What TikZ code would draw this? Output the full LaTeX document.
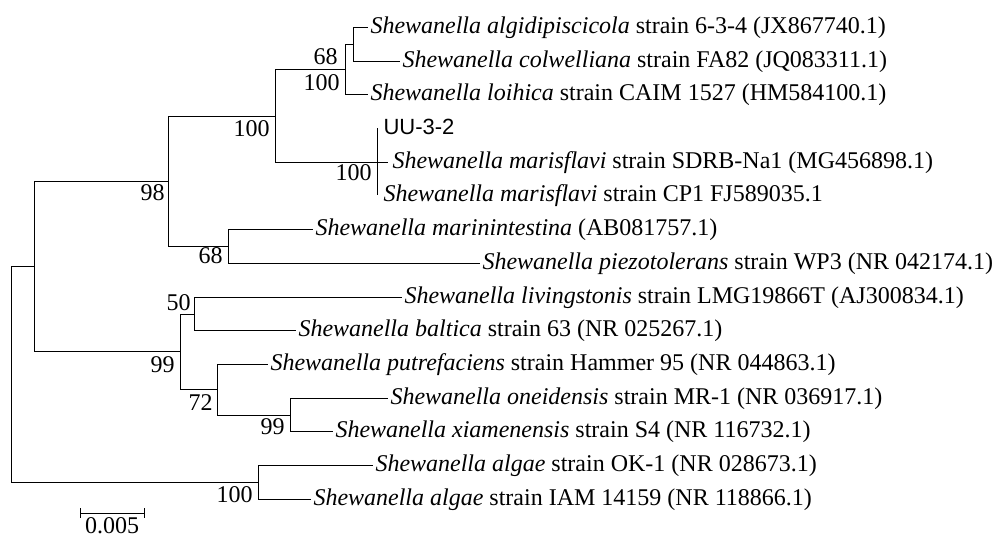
\documentclass[tikz,border=0pt]{standalone}
\usepackage{fontspec}
\setmainfont{Liberation Serif}
\newfontfamily\strainfont{Liberation Sans}
\usetikzlibrary{positioning}

\begin{document}
\begin{tikzpicture}[x=1pt, y=-1pt, line width=1pt,
      font=\fontsize{24}{28}\selectfont,
      leaf/.style={anchor=west, inner xsep=2pt, inner ysep=0pt, text height=17pt, text depth=5pt},
      boot/.style={anchor=east, inner sep=0pt}
    ]
      \useasboundingbox (0,0) rectangle (998,538);

      % internal nodes
      \coordinate (root) at (11,374);
      \coordinate (n11) at (34,266);
      \coordinate (n6) at (168,181);
      \coordinate (n4) at (275,116);
      \coordinate (n2) at (345,69);
      \coordinate (n1) at (353,44);
      \coordinate (n3) at (377,162);
      \coordinate (n5) at (228,246);
      \coordinate (n10) at (180,351);
      \coordinate (n7) at (194,314);
      \coordinate (n9) at (217,389);
      \coordinate (n8) at (290,415);
      \coordinate (n12) at (258,482);

      % tips
      \coordinate (t1) at (368,27);
      \coordinate (t2) at (400,61);
      \coordinate (t3) at (368,94);
      \coordinate (t4) at (377,128);
      \coordinate (t5) at (388,162);
      \coordinate (t6) at (377,195);
      \coordinate (t7) at (313,229);
      \coordinate (t8) at (480,263);
      \coordinate (t9) at (402,297);
      \coordinate (t10) at (296,330);
      \coordinate (t11) at (268,364);
      \coordinate (t12) at (388,398);
      \coordinate (t13) at (333,431);
      \coordinate (t14) at (373,465);
      \coordinate (t15) at (311,499);

      \node[leaf, right=0pt of t1] (l1) {\textit{Shewanella algidipiscicola} strain 6-3-4 (JX867740.1)};
      \node[leaf, right=0pt of t2] (l2) {\textit{Shewanella colwelliana} strain FA82 (JQ083311.1)};
      \node[leaf, right=0pt of t3] (l3) {\textit{Shewanella loihica} strain CAIM 1527 (HM584100.1)};
      \node[leaf, right=4pt of t4] (l4) {\strainfont\fontsize{22}{26}\selectfont UU-3-2};
      \node[leaf, right=2pt of t5] (l5) {\textit{Shewanella marisflavi} strain SDRB-Na1 (MG456898.1)};
      \node[leaf, right=4pt of t6] (l6) {\textit{Shewanella marisflavi} strain CP1 FJ589035.1};
      \node[leaf, right=0pt of t7] (l7) {\textit{Shewanella marinintestina} (AB081757.1)};
      \node[leaf, right=0pt of t8] (l8) {\textit{Shewanella piezotolerans} strain WP3 (NR 042174.1)};
      \node[leaf, right=0pt of t9] (l9) {\textit{Shewanella livingstonis} strain LMG19866T (AJ300834.1)};
      \node[leaf, right=0pt of t10] (l10) {\textit{Shewanella baltica} strain 63 (NR 025267.1)};
      \node[leaf, right=0pt of t11] (l11) {\textit{Shewanella putrefaciens} strain Hammer 95 (NR 044863.1)};
      \node[leaf, right=0pt of t12] (l12) {\textit{Shewanella oneidensis} strain MR-1 (NR 036917.1)};
      \node[leaf, right=0pt of t13] (l13) {\textit{Shewanella xiamenensis} strain S4 (NR 116732.1)};
      \node[leaf, right=0pt of t14] (l14) {\textit{Shewanella algae} strain OK-1 (NR 028673.1)};
      \node[leaf, right=0pt of t15] (l15) {\textit{Shewanella algae} strain IAM 14159 (NR 118866.1)};

      % branches
      \draw (root) |- (n11) (root) |- (n12);
      \draw (n11) |- (n6) (n11) |- (n10);
      \draw (n6) |- (n4) (n6) |- (n5);
      \draw (n4) |- (n2) (n4) |- (n3);
      \draw (n2) |- (n1) (n2) |- (t3);
      \draw (n1) |- (t1) (n1) |- (t2);
      \draw (n3) |- (t4) (n3) -- (t5) (n3) |- (t6);
      \draw (n5) |- (t7) (n5) |- (t8);
      \draw (n10) |- (n7) (n10) |- (n9);
      \draw (n7) |- (t9) (n7) |- (t10);
      \draw (n9) |- (t11) (n9) |- (n8);
      \draw (n8) |- (t12) (n8) |- (t13);
      \draw (n12) |- (t14) (n12) |- (t15);

      % bootstrap values
      \node[boot] (b1) at (338,57) {68};
      \node[boot] (b2) at (340,83) {100};
      \node[boot] (b4) at (270,129) {100};
      \node[boot] (b3) at (372,173) {100};
      \node[boot] (b6) at (165,193) {98};
      \node[boot] (b5) at (223,256) {68};
      \node[boot] (b7) at (191,303) {50};
      \node[boot] (b10) at (175,365) {99};
      \node[boot] (b9) at (213,403) {72};
      \node[boot] (b8) at (285,427) {99};
      \node[boot] (b12) at (253,495) {100};

      % scale bar
      \coordinate (sbl) at (80,513);
      \coordinate (sbr) at (144,513);
      \draw (sbl) -- (sbr);
      \draw ([yshift=5pt]sbl) -- ([yshift=-5pt]sbl);
      \draw ([yshift=5pt]sbr) -- ([yshift=-5pt]sbr);
      \node[anchor=base, inner sep=0pt] (sblabel) at (112,533) {0.005};
    \end{tikzpicture}
\end{document}
